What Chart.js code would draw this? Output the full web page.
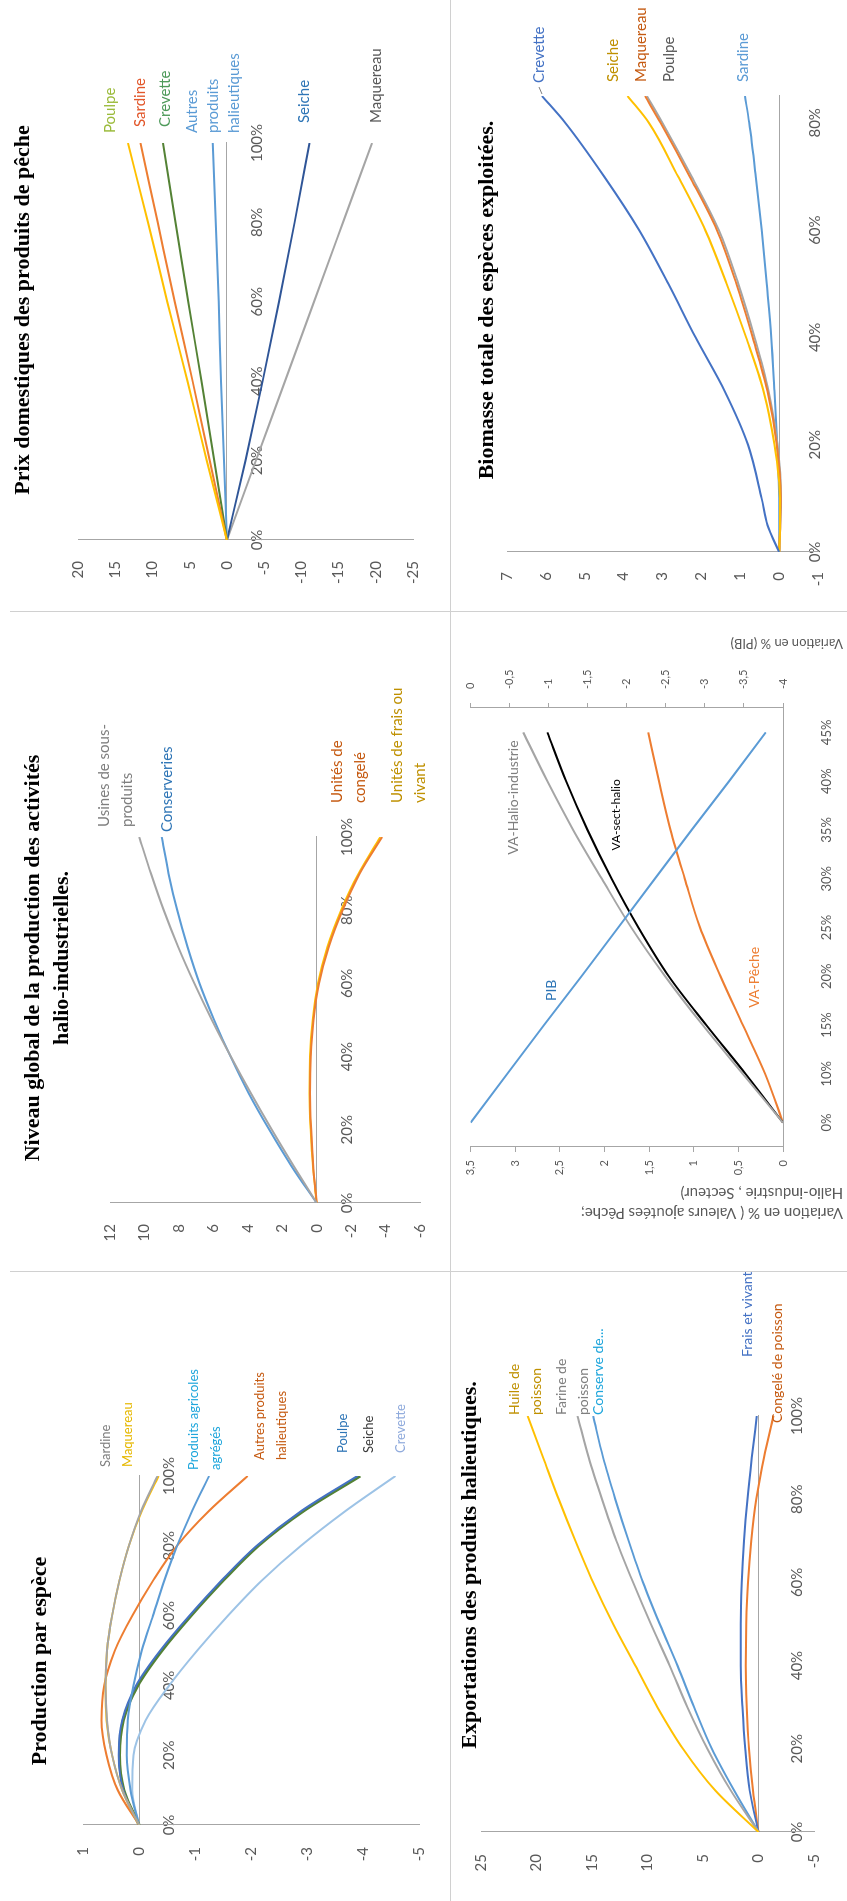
<!DOCTYPE html>
<html lang="fr">
<head>
<meta charset="utf-8">
<title>Simulations - secteur halieutique</title>
<script src="https://cdn.jsdelivr.net/npm/chart.js@4.4.1/dist/chart.umd.min.js"></script>
<style>
  html, body { margin: 0; padding: 0; background: #fff; }
  body { width: 847px; height: 1901px; overflow: hidden; position: relative; }
  /* the page is laid out in landscape, then turned a quarter turn */
  #page { position: absolute; left: 0; top: 0; width: 1901px; height: 847px; background: #fff;
          transform-origin: 0 0; transform: translateY(1901px) rotate(-90deg); }
  #page canvas { position: absolute; }
  .rule { position: absolute; background: #d0d0d0; }
</style>
</head>
<body>
<div id="page">
  <canvas id="prod" width="629" height="450" style="left:0;top:0"></canvas>
  <canvas id="niveau" width="660" height="450" style="left:629px;top:0"></canvas>
  <canvas id="prix" width="612" height="450" style="left:1289px;top:0"></canvas>
  <canvas id="export" width="629" height="397" style="left:0;top:450px"></canvas>
  <canvas id="va" width="660" height="397" style="left:629px;top:450px"></canvas>
  <canvas id="biomasse" width="612" height="397" style="left:1289px;top:450px"></canvas>
  <div class="rule" style="left:0;top:450px;width:1901px;height:1px"></div>
  <div class="rule" style="left:629px;top:10px;width:1px;height:837px"></div>
  <div class="rule" style="left:1289px;top:10px;width:1px;height:837px"></div>
</div>
<script>
// ---- Production par espèce ----
var prodX = [0, 10, 20, 30, 40, 50, 60, 70, 80, 90, 100];
var prodSardine   = [0, 0.30, 0.48, 0.57, 0.60, 0.57, 0.48, 0.35, 0.18, -0.04, -0.33];
var prodMaquereau = [0, 0.30, 0.48, 0.58, 0.60, 0.57, 0.48, 0.35, 0.18, -0.05, -0.35];
var prodAgricoles = [0, 0.15, 0.22, 0.20, 0.10, -0.05, -0.25, -0.45, -0.68, -0.95, -1.25];
var prodAutres    = [0, 0.38, 0.58, 0.67, 0.62, 0.43, 0.12, -0.25, -0.68, -1.25, -1.94];
var prodPoulpe    = [0, 0.28, 0.36, 0.30, 0.05, -0.38, -0.90, -1.47, -2.10, -2.90, -3.90];
var prodSeiche    = [0, 0.27, 0.35, 0.28, 0.02, -0.41, -0.93, -1.50, -2.13, -2.94, -3.95];
var prodCrevette  = [0, 0.12, 0.10, -0.12, -0.54, -1.04, -1.59, -2.19, -2.89, -3.69, -4.58];
var prodYTicks = [1, 0, -1, -2, -3, -4, -5];

// ---- Niveau global de la production des activités halio-industrielles ----
var nivX = [0, 10, 20, 30, 40, 50, 60, 70, 80, 90, 100];
var nivUsines   = [0, 1.32, 2.6, 3.82, 4.98, 6.08, 7.1, 8.04, 8.88, 9.62, 10.3];
var nivConserve = [0, 1.45, 2.75, 3.95, 5.0, 5.95, 6.8, 7.5, 8.1, 8.6, 9.0];
var nivCongele  = [0, 0.20, 0.32, 0.38, 0.34, 0.18, -0.14, -0.70, -1.50, -2.50, -3.80];
var nivFrais    = [0, 0.22, 0.35, 0.42, 0.39, 0.23, -0.08, -0.63, -1.43, -2.43, -3.70];
var nivYTicks = [12, 10, 8, 6, 4, 2, 0, -2, -4, -6];

// ---- Prix domestiques des produits de pêche ----
var prixX = [0, 20, 40, 60, 80, 100];
var prixPoulpe    = [0, 2.7, 5.3, 8.0, 10.6, 13.3];
var prixSardine   = [0, 2.3, 4.6, 7.0, 9.3, 11.6];
var prixCrevette  = [0, 1.7, 3.4, 5.2, 6.9, 8.6];
var prixAutres    = [0, 0.4, 0.8, 1.1, 1.5, 1.9];
var prixSeiche    = [0, -2.5, -4.8, -7.0, -9.1, -11.1];
var prixMaquereau = [0, -3.9, -7.8, -11.7, -15.6, -19.5];
var prixYTicks = [20, 15, 10, 5, 0, -5, -10, -15, -20, -25];

// ---- Exportations des produits halieutiques ----
var expX = [0, 10, 20, 30, 40, 50, 60, 70, 80, 90, 100];
var expHuile    = [0, 3.9, 6.8, 9.1, 11.1, 13.1, 14.9, 16.5, 18.0, 19.4, 20.8];
var expFarine   = [0, 2.5, 4.6, 6.4, 8.0, 9.7, 11.3, 12.8, 14.1, 15.3, 16.3];
var expConserve = [0, 2.2, 4.2, 5.8, 7.3, 8.9, 10.4, 11.7, 12.9, 14.0, 14.9];
var expFrais    = [0, 0.8, 1.2, 1.45, 1.6, 1.6, 1.5, 1.3, 1.0, 0.6, 0.15];
var expCongele  = [0, 0.5, 0.85, 1.05, 1.15, 1.1, 0.95, 0.65, 0.2, -0.5, -1.35];
var expYTicks = [25, 20, 15, 10, 5, 0, -5];

// ---- Valeurs ajoutées et PIB ----
var vaCats = ['0%', '10%', '15%', '20%', '25%', '30%', '35%', '40%', '45%'];
var vaPIB    = [0, -0.47, -0.94, -1.42, -1.89, -2.36, -2.83, -3.31, -3.78];
var vaHalio  = [0, 0.45, 0.90, 1.32, 1.70, 2.03, 2.35, 2.64, 2.91];
var vaSect   = [0, 0.42, 0.86, 1.28, 1.62, 1.92, 2.19, 2.43, 2.64];
var vaPeche  = [0, 0.20, 0.45, 0.70, 0.93, 1.10, 1.26, 1.39, 1.51];
var vaLeftTicks  = [3.5, 3, 2.5, 2, 1.5, 1, 0.5, 0];
var vaRightTicks = [0, -0.5, -1, -1.5, -2, -2.5, -3, -3.5, -4];

// ---- Biomasse totale des espèces exploitées ----
var bioX = [0, 5, 10, 20, 30, 40, 50, 60, 70, 80, 85];
var bioCrevette  = [0, 0.30, 0.45, 0.80, 1.40, 2.15, 2.85, 3.60, 4.50, 5.50, 6.10];
var bioSeiche    = [0, -0.02, -0.02, 0.12, 0.40, 0.85, 1.35, 1.90, 2.60, 3.35, 3.90];
var bioMaquereau = [0, -0.03, -0.04, 0.06, 0.30, 0.68, 1.10, 1.60, 2.30, 3.05, 3.45];
var bioPoulpe    = [0, -0.03, -0.05, 0.04, 0.27, 0.63, 1.05, 1.55, 2.25, 3.00, 3.40];
var bioSardine   = [0, 0, 0, 0.05, 0.12, 0.20, 0.32, 0.45, 0.60, 0.77, 0.88];
var bioYTicks = [7, 6, 5, 4, 3, 2, 1, 0, -1];

var pctTicks = [0, 20, 40, 60, 80, 100];
var bioXTicks = [0, 20, 40, 60, 80];

var AXIS = '#a6a6a6';
var TICK = '#595959';

// titles, series names and axis titles, per canvas
var titles = {
  prod:     { lines: ['Production par espèce'], x: 240, y: 40 },
  niveau:   { lines: ['Niveau global de la production des activités', 'halio-industrielles.'], x: 314, y: 33, lh: 29 },
  prix:     { lines: ['Prix domestiques des produits de pêche'], x: 302, y: 23 },
  'export': { lines: ['Exportations des produits halieutiques.'], x: 336, y: 20 },
  biomasse: { lines: ['Biomasse totale des espèces exploitées.'], x: 312, y: 37 }
};

var names = {
  prod: { size: 13, lh: 22, items: [
    { ds: 0, text: 'Sardine', color: '#7f7f7f', dx: 9, dy: -52 },
    { ds: 1, text: 'Maquereau', color: '#e6b800', dx: 9, dy: -31 },
    { ds: 2, text: 'Produits agricoles\nagrégés', color: '#1fa6dc', dx: 6, dy: -4 },
    { ds: 3, text: 'Autres produits\nhalieutiques', color: '#c55a11', dx: 16, dy: 23 },
    { ds: 4, text: 'Poulpe', color: '#2e75b6', dx: 23, dy: -15 },
    { ds: 5, text: 'Seiche', color: '#3a3a3a', dx: 23, dy: 9 },
    { ds: 6, text: 'Crevette', color: '#8faadc', dx: 23, dy: 5 }
  ] },
  niveau: { size: 15, lh: 23, items: [
    { ds: 0, text: 'Usines de sous-\nproduits', color: '#7f7f7f', dx: 10, dy: -24 },
    { ds: 1, text: 'Conserveries', color: '#2e75b6', dx: 5, dy: 5 },
    { ds: 2, text: 'Unités de\ncongelé', color: '#c55a11', dx: 34, dy: -33 },
    { ds: 3, text: 'Unités de frais ou\nvivant', color: '#bf9000', dx: 34, dy: 28 }
  ] },
  prix: { size: 15, lh: 21, items: [
    { ds: 0, text: 'Poulpe', color: '#9bbb3b', dx: 10, dy: -18 },
    { ds: 1, text: 'Sardine', color: '#e2572b', dx: 16, dy: 0 },
    { ds: 2, text: 'Crevette', color: '#4e9a5a', dx: 16, dy: 2 },
    { ds: 3, text: 'Autres\nproduits\nhalieutiques', color: '#5b9bd5', dx: 10, dy: 0 },
    { ds: 4, text: 'Seiche', color: '#2e75b6', dx: 20, dy: -5 },
    { ds: 5, text: 'Maquereau', color: '#595959', dx: 20, dy: 4 }
  ] },
  'export': { size: 14, lh: 22, items: [
    { ds: 0, text: 'Huile de\npoisson', color: '#bf9000', dx: 1, dy: -2 },
    { ds: 1, text: 'Farine de\npoisson', color: '#7f7f7f', dx: 1, dy: -5 },
    { ds: 2, text: 'Conserve de...', color: '#1fa6dc', dx: 1, dy: 5 },
    { ds: 3, text: 'Frais et vivant', color: '#4472c4', dx: 59, dy: -9 },
    { ds: 4, text: 'Congelé de poisson', color: '#c55a11', dx: -7, dy: 4 }
  ] },
  va: { size: 14, lh: 18, items: [
    { ds: 0, at: 3, text: 'PIB', color: '#2e75b6', dx: -14, dy: -30, align: 'center' },
    { ds: 1, text: 'VA-Halio-industrie', color: '#7f7f7f', dx: -8, dy: -10, align: 'right' },
    { ds: 2, at: 6, text: 'VA-sect-halio', color: '#000000', dx: 15, dy: 29, align: 'center', size: 12 },
    { ds: 3, at: 3, text: 'VA-Pêche', color: '#ed7d31', dx: -1, dy: 34, align: 'center' }
  ] },
  biomasse: { size: 15, lh: 18, items: [
    { ds: 0, text: 'Crevette', color: '#4472c4', dx: 13, dy: -3, leader: true },
    { ds: 1, text: 'Seiche', color: '#bf9000', dx: 14, dy: -14 },
    { ds: 2, text: 'Maquereau', color: '#c55a11', dx: 14, dy: -4 },
    { ds: 3, text: 'Poulpe', color: '#595959', dx: 14, dy: 22 },
    { ds: 4, text: 'Sardine', color: '#5b9bd5', dx: 14, dy: -2 }
  ] }
};

// axis titles run from bottom to top, starting at y0
var axisTitles = {
  va: [
    { x: 69, y0: 393, text: 'Variation en % ( Valeurs ajoutées Pêche;\nHalio-industrie , Secteur)', size: 15, lh: 20 },
    { x: 629, y0: 393, text: 'Variation en % (PIB)', size: 13 }
  ]
};

var textLayer = {
  id: 'textLayer',
  afterDraw: function (chart) {
    var id = chart.canvas.id;
    var ctx = chart.ctx;

    var t = titles[id];
    if (t) {
      ctx.save();
      ctx.font = 'bold ' + (t.size || 22) + 'px "Liberation Serif"';
      ctx.fillStyle = '#000';
      ctx.textAlign = 'center';
      ctx.textBaseline = 'middle';
      t.lines.forEach(function (s, k) { ctx.fillText(s, t.x, t.y + k * (t.lh || 29)); });
      ctx.restore();
    }

    var n = names[id];
    if (n) {
      n.items.forEach(function (it) {
        var meta = chart.getDatasetMeta(it.ds);
        var pt = meta.data[it.at != null ? it.at : meta.data.length - 1];
        if (!pt) return;
        var x = pt.x + (it.dx || 0), y = pt.y + (it.dy || 0);
        var lines = it.text.split('\n');
        var top = y - (lines.length - 1) * n.lh / 2;
        ctx.save();
        ctx.font = (it.size || n.size) + 'px Lato';
        ctx.fillStyle = it.color;
        ctx.textAlign = it.align || 'left';
        ctx.textBaseline = 'middle';
        lines.forEach(function (s, k) { ctx.fillText(s, x, top + k * n.lh); });
        if (it.leader) {
          ctx.strokeStyle = '#7f7f7f';
          ctx.lineWidth = 1;
          ctx.beginPath();
          ctx.moveTo(pt.x + 2, pt.y);
          ctx.lineTo(x - 4, y);
          ctx.stroke();
        }
        ctx.restore();
      });
    }

    var a = axisTitles[id];
    if (a) {
      a.forEach(function (it) {
        var lines = it.text.split('\n');
        ctx.save();
        ctx.translate(it.x, it.y0);
        ctx.rotate(-Math.PI / 2);
        ctx.font = it.size + 'px Lato';
        ctx.fillStyle = TICK;
        ctx.textAlign = 'left';
        ctx.textBaseline = 'middle';
        lines.forEach(function (s, k) { ctx.fillText(s, 0, (k - (lines.length - 1) / 2) * (it.lh || 20)); });
        ctx.restore();
      });
    }
  }
};

Chart.register(textLayer);

function pts(xs, ys) {
  return xs.map(function (x, i) { return { x: x, y: ys[i] }; });
}

function serie(xs, ys, color, width) {
  return { data: pts(xs, ys), borderColor: color, borderWidth: width || 2, pointRadius: 0,
           cubicInterpolationMode: 'monotone', fill: false };
}

function valueAxis(ticks, width, pad, size) {
  return {
    type: 'linear', min: ticks[ticks.length - 1], max: ticks[0],
    afterBuildTicks: function (s) { s.ticks = ticks.map(function (v) { return { value: v }; }); },
    afterFit: function (s) { s.width = width; },
    grid: { display: false, drawTicks: false },
    border: { display: true, color: AXIS, width: 1 },
    ticks: { color: TICK, font: { family: 'Lato', size: size || 15 }, padding: pad, autoSkip: false }
  };
}

function pctAxis(min, max, ticks, pad, size) {
  return {
    type: 'linear', min: min, max: max, position: { y: 0 },
    afterBuildTicks: function (s) { s.ticks = ticks.map(function (v) { return { value: v }; }); },
    afterFit: function (s) { s.height = 0; },
    grid: { display: false, drawTicks: false },
    border: { display: true, color: AXIS, width: 1 },
    ticks: { color: TICK, font: { family: 'Lato', size: size || 15 }, padding: pad, autoSkip: false,
             maxRotation: 0, callback: function (v) { return v + '%'; } }
  };
}

function opts(pad, scales) {
  return { responsive: false, animation: false, devicePixelRatio: 1,
           layout: { padding: pad }, scales: scales,
           plugins: { legend: { display: false }, tooltip: { enabled: false } } };
}

new Chart(document.getElementById('prod'), {
  type: 'line',
  data: { datasets: [
    serie(prodX, prodSardine, '#a5a5a5'),
    serie(prodX, prodMaquereau, '#ffc000'),
    serie(prodX, prodAgricoles, '#5b9bd5'),
    serie(prodX, prodAutres, '#ed7d31'),
    serie(prodX, prodPoulpe, '#4472c4'),
    serie(prodX, prodSeiche, '#548235', 3),
    serie(prodX, prodCrevette, '#9dc3e6')
  ] },
  options: opts({ left: 0, top: 83, right: 204, bottom: 20 }, {
    x: pctAxis(0, 100, pctTicks, 21),
    y: valueAxis(prodYTicks, 76, 22)
  })
});

new Chart(document.getElementById('niveau'), {
  type: 'line',
  data: { datasets: [
    serie(nivX, nivUsines, '#a5a5a5'),
    serie(nivX, nivConserve, '#5b9bd5'),
    serie(nivX, nivCongele, '#ed7d31'),
    serie(nivX, nivFrais, '#ffc000')
  ] },
  options: opts({ left: 0, top: 110, right: 225, bottom: 30 }, {
    x: pctAxis(0, 100, pctTicks, 21),
    y: valueAxis(nivYTicks, 69, 21)
  })
});

new Chart(document.getElementById('prix'), {
  type: 'line',
  data: { datasets: [
    serie(prixX, prixPoulpe, '#ffc000'),
    serie(prixX, prixSardine, '#ed7d31'),
    serie(prixX, prixCrevette, '#548235'),
    serie(prixX, prixAutres, '#5b9bd5'),
    serie(prixX, prixSeiche, '#2f5597'),
    serie(prixX, prixMaquereau, '#a5a5a5')
  ] },
  options: opts({ left: 0, top: 78, right: 143, bottom: 37 }, {
    x: pctAxis(0, 100, pctTicks, 21),
    y: valueAxis(prixYTicks, 72, 21)
  })
});

new Chart(document.getElementById('export'), {
  type: 'line',
  data: { datasets: [
    serie(expX, expHuile, '#ffc000'),
    serie(expX, expFarine, '#a5a5a5'),
    serie(expX, expConserve, '#5b9bd5'),
    serie(expX, expFrais, '#4472c4'),
    serie(expX, expCongele, '#ed7d31')
  ] },
  options: opts({ left: 0, top: 30, right: 144, bottom: 33 }, {
    x: pctAxis(0, 100, pctTicks, 30),
    y: valueAxis(expYTicks, 69, 22)
  })
});

new Chart(document.getElementById('va'), {
  type: 'line',
  data: {
    labels: vaCats,
    datasets: [
      { data: vaPIB, yAxisID: 'y1', borderColor: '#5b9bd5', borderWidth: 2, pointRadius: 0, tension: 0 },
      { data: vaHalio, yAxisID: 'y', borderColor: '#a5a5a5', borderWidth: 2, pointRadius: 0, cubicInterpolationMode: 'monotone' },
      { data: vaSect, yAxisID: 'y', borderColor: '#000000', borderWidth: 2, pointRadius: 0, cubicInterpolationMode: 'monotone' },
      { data: vaPeche, yAxisID: 'y', borderColor: '#ed7d31', borderWidth: 2, pointRadius: 0, cubicInterpolationMode: 'monotone' }
    ]
  },
  options: opts({ left: 0, top: 13, right: 0, bottom: 0 }, {
    x: {
      type: 'category', offset: true, position: 'bottom',
      afterFit: function (s) { s.height = 64; },
      grid: { display: false, drawTicks: false },
      border: { display: true, color: AXIS },
      ticks: { color: TICK, font: { family: 'Lato', size: 13 }, padding: 36, maxRotation: 0, autoSkip: false }
    },
    y: {
      type: 'linear', position: 'left', min: 0, max: 3.5,
      afterBuildTicks: function (s) { s.ticks = vaLeftTicks.map(function (v) { return { value: v }; }); },
      afterFit: function (s) { s.width = 125; },
      grid: { display: true, drawOnChartArea: false, drawTicks: true, tickLength: 5, color: AXIS },
      border: { display: true, color: AXIS },
      ticks: { color: TICK, font: { family: 'Lato', size: 11 }, padding: 8, autoSkip: false,
               callback: function (v) { return String(v).replace('.', ','); } }
    },
    y1: {
      type: 'linear', position: 'right', min: -4, max: 0,
      afterBuildTicks: function (s) { s.ticks = vaRightTicks.map(function (v) { return { value: v }; }); },
      afterFit: function (s) { s.width = 96; },
      grid: { display: true, drawOnChartArea: false, drawTicks: true, tickLength: 5, color: AXIS },
      border: { display: true, color: AXIS },
      ticks: { color: TICK, font: { family: 'Lato', size: 11 }, padding: 14, autoSkip: false,
               callback: function (v) { return String(v).replace('.', ','); } }
    }
  })
});

new Chart(document.getElementById('biomasse'), {
  type: 'line',
  data: { datasets: [
    serie(bioX, bioCrevette, '#4472c4'),
    serie(bioX, bioSeiche, '#ffc000'),
    serie(bioX, bioMaquereau, '#ed7d31'),
    serie(bioX, bioPoulpe, '#a5a5a5'),
    serie(bioX, bioSardine, '#5b9bd5')
  ] },
  options: opts({ left: 0, top: 57, right: 96, bottom: 20 }, {
    x: pctAxis(0, 85, bioXTicks, 27),
    y: valueAxis(bioYTicks, 60, 20)
  })
});
</script>
</body>
</html>
